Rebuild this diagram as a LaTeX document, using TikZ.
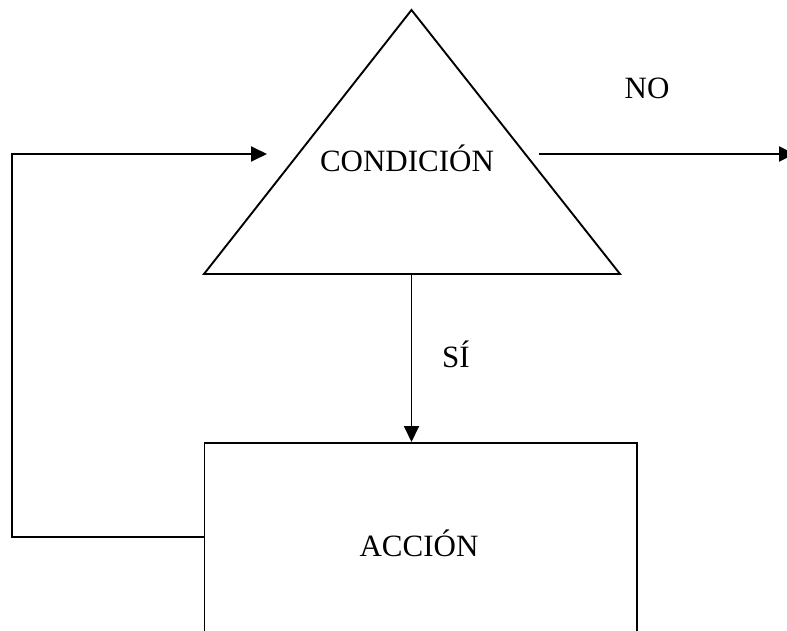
\documentclass[tikz,border=0pt]{standalone}
\usepackage{fontspec}
\setmainfont{Liberation Serif}
\usetikzlibrary{arrows.meta}
\begin{document}
\begin{tikzpicture}[x=1pt,y=-1pt,
  line/.style={line width=1.9pt, line join=miter},
  arr/.style={line, -{Triangle[length=16pt,width=15pt]}},
  txt/.style={inner sep=0pt, anchor=base, font=\fontsize{31}{37}\selectfont}]
\useasboundingbox (0,0) rectangle (787,631);
% decision triangle
\coordinate (apex) at (411.5,10);
\coordinate (bl) at (204,274);
\coordinate (br) at (620,274);
\draw[line] (apex) -- (bl) -- (br) -- cycle;
\node[txt] (cond) at (407,172) {CONDICIÓN};
% action box (cut off at the bottom)
\node[draw, line width=1.9pt, minimum width=432.5pt, minimum height=300pt,
      anchor=north west, inner sep=0pt] (accbox) at (203.5,442) {};
\node[txt] (acc) at (419,556) {ACCIÓN};
% labels
\node[txt] (no) at (647,99) {NO};
\node[txt] (si) at (456,367) {SÍ};
% connector coordinates
\coordinate (sistart) at (411.5,274);
\coordinate (sitip) at (411.5,442);
\coordinate (loopstart) at (203.5,537);
\coordinate (lp1) at (12,537);
\coordinate (lp2) at (12,154);
\coordinate (inend) at (267,154);
\coordinate (nostart) at (539,154);
\coordinate (noend) at (795,154);
% connectors
\draw[arr] (sistart) -- (sitip);
\draw[arr] (loopstart) -- (lp1) -- (lp2) -- (inend);
\draw[arr] (nostart) -- (noend);
\end{tikzpicture}
\end{document}
